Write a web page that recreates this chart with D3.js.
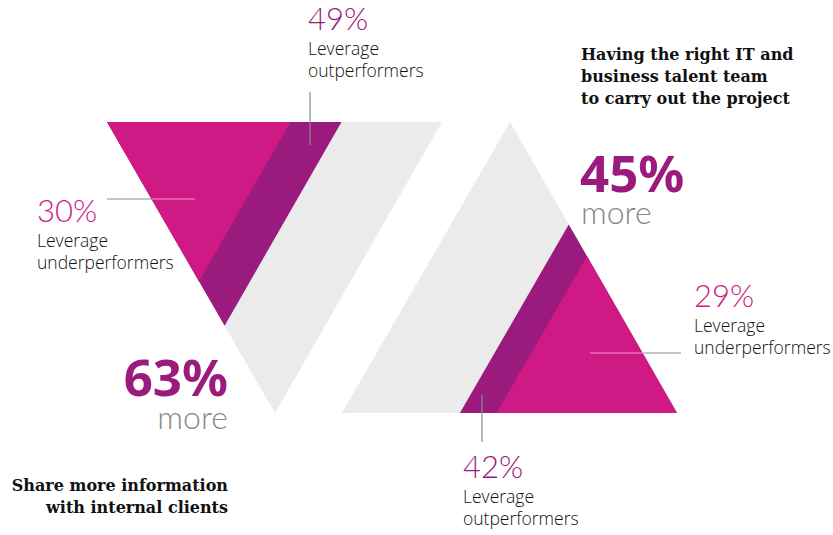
<!DOCTYPE html>
<html><head><meta charset="utf-8">
<script src="https://cdn.jsdelivr.net/npm/d3@7"></script>
<style>
body{margin:0;background:#fff;}
svg{display:block;}
</style></head>
<body>
<svg id="chart" width="833" height="535"></svg>
<script>
// ---- data ----
const groups = ["Share more information with internal clients", "Having the right IT and business talent team to carry out the project"];
const moreValues = [63, 45];
const outperformers = [49, 42];
const underperformers = [30, 29];
const seriesNames = ["Leverage outperformers", "Leverage underperformers"];

// ---- styling ----
const PINK = "#cf1a86", PURPLE = "#9a1a7d", GRAY = "#ebebeb", LINE = "#8c8c8c";
const svg = d3.select("#chart");

// scale: percentage of area -> linear scale factor of a similar triangle
const k = d3.scaleSqrt().domain([0, 100]).range([0, 1]);

// geometry of the two full triangles (anchor vertex first)
const tri = [
  {A: [107, 122], B: [442, 122], C: [275, 413]},   // inverted, anchored top-left
  {A: [677, 413], B: [342, 413], C: [510, 122]}    // upright, anchored bottom-right
];
function scaled(t, f) {
  const p = (v) => [t.A[0] + f * (v[0] - t.A[0]), t.A[1] + f * (v[1] - t.A[1])];
  return [t.A, p(t.B), p(t.C)];
}
const line = d3.line();

tri.forEach((t, i) => {
  svg.append("path").attr("d", line(scaled(t, k(100))) + "Z").attr("fill", GRAY);
  svg.append("path").attr("d", line(scaled(t, k(outperformers[i]))) + "Z").attr("fill", PURPLE);
  svg.append("path").attr("d", line(scaled(t, k(underperformers[i]))) + "Z").attr("fill", PINK);
});

// leader lines
function seg(x1, y1, x2, y2, c) {
  svg.append("line").attr("x1", x1).attr("y1", y1).attr("x2", x2).attr("y2", y2)
    .attr("stroke", c).attr("stroke-width", 1.2);
}
seg(310, 92, 310, 145, LINE);
seg(107, 199, 152, 199, LINE);
seg(152, 199, 195, 199, "rgba(255,255,255,0.55)");
seg(590, 353, 643, 353, "rgba(255,255,255,0.55)");
seg(643, 353, 681, 353, LINE);
seg(482, 395, 482, 442, LINE);

// text helpers
const LIGHT = "Lato, 'Open Sans', Roboto, sans-serif";
const BODY = "'Open Sans', 'Liberation Sans', sans-serif";
function txt(x, y, s, opt) {
  const o = Object.assign({size: 16, color: "#222", weight: 300, anchor: "start", family: LIGHT}, opt || {});
  svg.append("text").attr("x", x).attr("y", y).text(s)
    .attr("font-family", o.family).attr("font-size", o.size).attr("font-weight", o.weight)
    .attr("fill", o.color).attr("text-anchor", o.anchor);
}
function label(x, y, value, color, name) {
  txt(x, y, value + "%", {size: 31, color: color, weight: 300});
  const parts = name.split(" ");
  txt(x, y + 25, parts[0], {size: 17.5, family: BODY, color: "#111"});
  txt(x, y + 47, parts.slice(1).join(" "), {size: 17.5, family: BODY, color: "#111"});
}
label(308, 30, outperformers[0], PURPLE, seriesNames[0]);
label(37, 222, underperformers[0], PINK, seriesNames[1]);
label(694, 307, underperformers[1], PINK, seriesNames[1]);
label(463, 478, outperformers[1], PURPLE, seriesNames[0]);

// big numbers
const BOLD = "'Noto Sans', 'Open Sans', sans-serif";
txt(228, 396, moreValues[0] + "%", {size: 51, color: PURPLE, weight: 700, anchor: "end", family: BOLD});
txt(228, 429, "more", {size: 32, color: "#888", weight: 300, anchor: "end"});
txt(580, 192, moreValues[1] + "%", {size: 51, color: PURPLE, weight: 700, family: BOLD});
txt(581, 224, "more", {size: 32, color: "#888", weight: 300});

// titles (slab serif)
const SLAB = "'DejaVu Serif', serif";
const T = {size: 16, weight: 700, family: SLAB, color: "#111"};
txt(228, 491, "Share more information", Object.assign({}, T, {anchor: "end"}));
txt(228, 513, "with internal clients", Object.assign({}, T, {anchor: "end"}));
txt(581, 60, "Having the right IT and", T);
txt(581, 82, "business talent team", T);
txt(581, 104, "to carry out the project", T);
</script>
</body></html>
